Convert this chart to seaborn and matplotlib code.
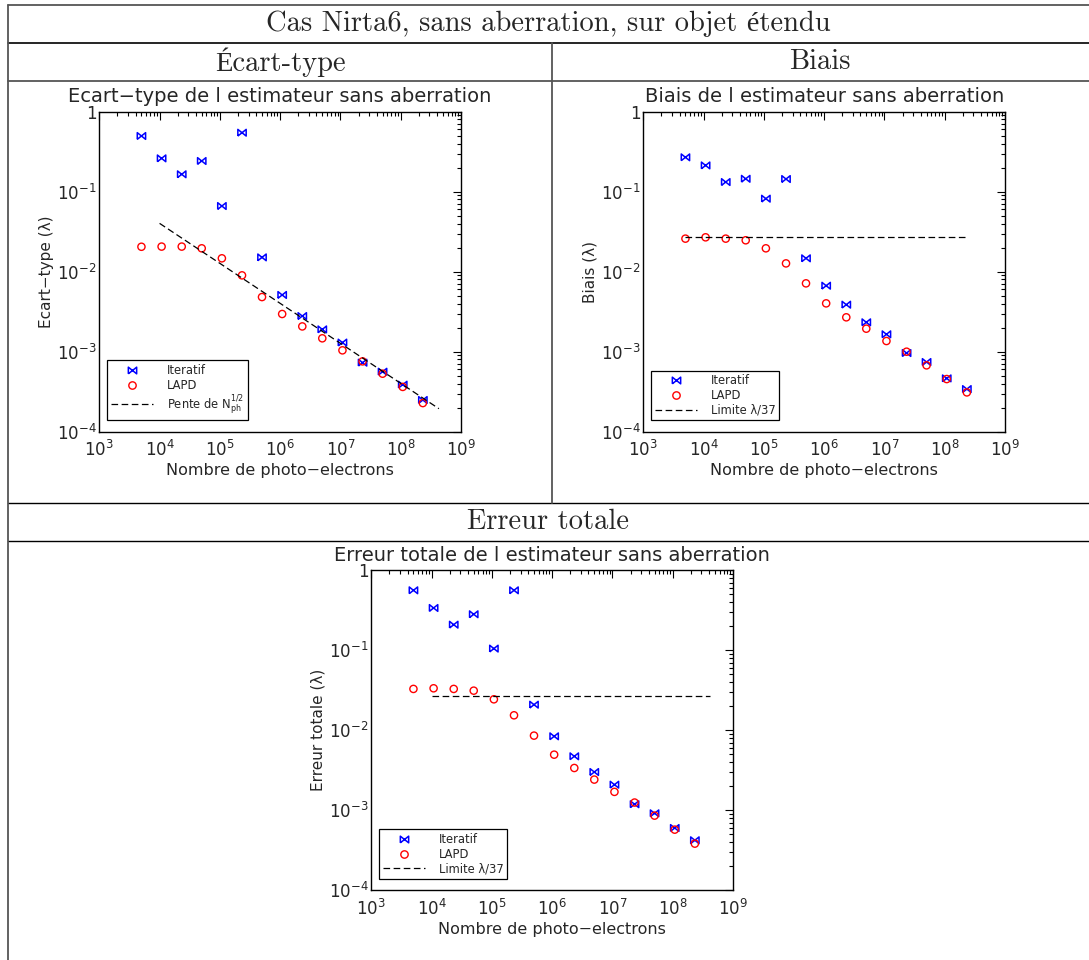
import numpy as np
import seaborn as sns
import matplotlib.pyplot as plt
from matplotlib.path import Path
from matplotlib.lines import Line2D
from matplotlib.ticker import LogLocator, FuncFormatter, NullFormatter

# Nombre de photo-electrons (axe x commun)
x_nph = [5.0e3, 1.08e4, 2.33e4, 5.0e4, 1.08e5, 2.33e5, 5.0e5, 1.08e6,
         2.33e6, 5.0e6, 1.08e7, 2.33e7, 5.0e7, 1.08e8, 2.33e8]

# Ecart-type
ecart_iter = [0.497, 0.261, 0.165, 0.242, 0.0662, 0.546, 0.0151, 0.00512,
              0.00279, 0.0019, 0.0013, 0.000729, 0.000562, 0.000387, 0.000249]
ecart_lapd = [0.0205, 0.0206, 0.0206, 0.0196, 0.0147, 0.009, 0.00482, 0.00296,
              0.00207, 0.00147, 0.00104, 0.000757, 0.000531, 0.000363, 0.000228]
pente_x = [1.0e4, 4.3e8]
pente_y = [0.0402, 0.000194]

# Biais
biais_iter = [0.269, 0.213, 0.132, 0.145, 0.0818, 0.144, 0.0147, 0.00668,
              0.00387, 0.00233, 0.00165, 0.000962, 0.000743, 0.000464, 0.000341]
biais_lapd = [0.0259, 0.0269, 0.0259, 0.0247, 0.0196, 0.0127, 0.00715, 0.00402,
              0.00269, 0.00194, 0.00136, 0.001, 0.000675, 0.000455, 0.00031]
limite_biais_x = [5.0e3, 2.2e8]

# Erreur totale
total_iter = [0.562, 0.338, 0.209, 0.282, 0.105, 0.562, 0.0209, 0.00841,
              0.00473, 0.00301, 0.00209, 0.00119, 0.000917, 0.000601, 0.000422]
total_lapd = [0.0329, 0.0335, 0.0329, 0.0313, 0.0244, 0.0154, 0.00858, 0.00496,
              0.00338, 0.00242, 0.0017, 0.00125, 0.000858, 0.000573, 0.000383]
limite_total_x = [1.03e4, 4.2e8]

limite = 1 / 37

sns.set_style('white')
plt.rcParams['font.family'] = ['DejaVu Sans']
plt.rcParams['mathtext.default'] = 'regular'

W, H = 1089, 960
fig = plt.figure(figsize=(W / 100, H / 100), dpi=100)

# marqueur "noeud papillon" pour Iteratif
bowtie = Path([(-1, -0.8), (-1, 0.8), (1, -0.8), (1, 0.8), (-1, -0.8)],
              [Path.MOVETO, Path.LINETO, Path.LINETO, Path.LINETO, Path.LINETO])
dash = (0, (5.3, 2.8))


def fmt_y(v, pos):
    e = int(round(np.log10(v)))
    return '1' if e == 0 else r'$10^{%d}$' % e


def fmt_x(v, pos):
    return r'$10^{%d}$' % int(round(np.log10(v)))


def panel(rect, title, ylabel, y_iter, y_lapd, line_x, line_y, line_label):
    ax = fig.add_axes(rect)
    sns.scatterplot(x=x_nph, y=y_iter, ax=ax, marker=bowtie, s=36,
                    facecolors='none', edgecolors='blue', linewidths=1.1)
    sns.scatterplot(x=x_nph, y=y_lapd, ax=ax, marker='o', s=27,
                    facecolors='none', edgecolors='red', linewidths=1.0)
    sns.lineplot(x=line_x, y=line_y, ax=ax, color='black', lw=0.9, ls=dash)
    ax.set_xscale('log')
    ax.set_yscale('log')
    ax.set_xlim(1e3, 1e9)
    ax.set_ylim(1e-4, 1)
    ax.xaxis.set_major_locator(LogLocator(base=10, numticks=10))
    ax.yaxis.set_major_locator(LogLocator(base=10, numticks=10))
    ax.xaxis.set_minor_locator(LogLocator(base=10, subs=np.arange(2, 10), numticks=20))
    ax.yaxis.set_minor_locator(LogLocator(base=10, subs=np.arange(2, 10), numticks=20))
    ax.xaxis.set_major_formatter(FuncFormatter(fmt_x))
    ax.yaxis.set_major_formatter(FuncFormatter(fmt_y))
    ax.xaxis.set_minor_formatter(NullFormatter())
    ax.yaxis.set_minor_formatter(NullFormatter())
    ax.tick_params(which='both', direction='in', top=True, right=True,
                   color='black', width=0.8)
    ax.tick_params(which='major', length=6, labelsize=12)
    ax.tick_params(axis='x', which='major', pad=6)
    ax.tick_params(axis='y', which='major', pad=2)
    ax.tick_params(which='minor', length=3)
    for sp in ax.spines.values():
        sp.set_color('black')
        sp.set_linewidth(1.0)
    ax.set_title(title, fontsize=14, pad=7)
    ax.set_xlabel('Nombre de photo\u2212electrons', fontsize=11.5, labelpad=2)
    ax.set_ylabel(ylabel, fontsize=11, labelpad=2)

    handles = [
        Line2D([], [], ls='none', marker=bowtie, markersize=6,
               markerfacecolor='none', markeredgecolor='blue', markeredgewidth=1.1),
        Line2D([], [], ls='none', marker='o', markersize=5.3,
               markerfacecolor='none', markeredgecolor='red', markeredgewidth=1.0),
        Line2D([], [], color='black', lw=0.9, ls=dash),
    ]
    leg = ax.legend(handles, ['Iteratif', 'LAPD', line_label], loc='lower left',
                    bbox_to_anchor=(0.022, 0.036), borderaxespad=0,
                    fontsize=8.3, frameon=True, fancybox=False, framealpha=1,
                    edgecolor='black', handlelength=3.7, handletextpad=1.2,
                    labelspacing=0.15, borderpad=0.3)
    leg.get_frame().set_linewidth(0.9)
    return ax


aw, ah = 361.7 / W, 320 / H
panel([99.3 / W, 1 - 431.7 / H, aw, ah],
      'Ecart\u2212type de l estimateur sans aberration', 'Ecart\u2212type (\u03bb)',
      ecart_iter, ecart_lapd, pente_x, pente_y, r'Pente de N$_{ph}^{1/2}$')
panel([643.3 / W, 1 - 431.7 / H, aw, ah],
      'Biais de l estimateur sans aberration', 'Biais (\u03bb)',
      biais_iter, biais_lapd, limite_biais_x, [limite, limite], 'Limite \u03bb/37')
panel([371.3 / W, 1 - 890.3 / H, aw, ah],
      'Erreur totale de l estimateur sans aberration', 'Erreur totale (\u03bb)',
      total_iter, total_lapd, limite_total_x, [limite, limite], 'Limite \u03bb/37')


# cadre du tableau
def hline(y, x0=8, x1=W, c='#555555', lw=1.3):
    fig.add_artist(Line2D([x0 / W, x1 / W], [1 - y / H, 1 - y / H], color=c, lw=lw))


def vline(x, y0, y1, c='#555555', lw=1.3):
    fig.add_artist(Line2D([x / W, x / W], [1 - y0 / H, 1 - y1 / H], color=c, lw=lw))


hline(5)
hline(43, c='black', lw=1.2)
hline(81)
hline(503, c='black', lw=1.0)
hline(541, c='black', lw=1.0)
vline(8, 5, H)
vline(552, 43, 503)

serif = ['cmr10', 'Liberation Serif']
fig.text(548 / W, 1 - 24 / H, 'Cas Nirta6, sans aberration, sur objet \u00e9tendu',
         ha='center', va='center', fontsize=20.5, family=serif)
fig.text(280 / W, 1 - 62 / H, '\u00c9cart-type', ha='center', va='center',
         fontsize=20.5, family=serif)
fig.text(820 / W, 1 - 62 / H, 'Biais', ha='center', va='center',
         fontsize=20.5, family=serif)
fig.text(548 / W, 1 - 522 / H, 'Erreur totale', ha='center', va='center',
         fontsize=20.5, family=serif)

fig.savefig('out.png', dpi=100)
